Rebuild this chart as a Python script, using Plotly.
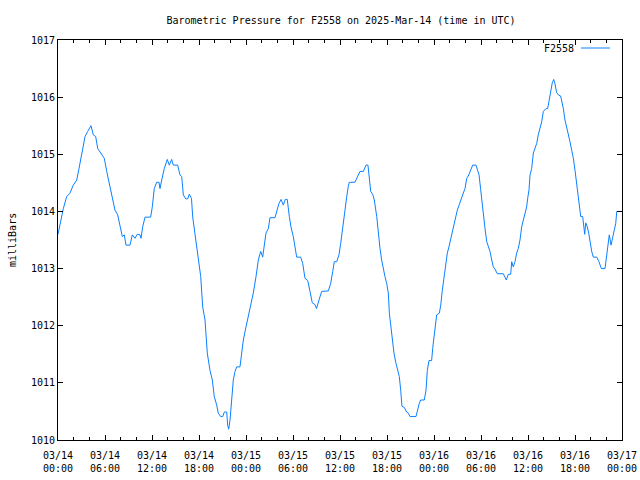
import pandas as pd
import plotly.graph_objects as go

# Hours since 2025-03-14 00:00 UTC
hours = [
    0.0, 0.38, 0.68, 1.11, 1.53, 1.95, 2.39, 2.68, 3.03, 3.45, 3.79, 4.21, 4.51, 4.81,
    5.07, 5.49, 5.91, 6.22, 6.64, 6.93, 7.28, 7.62, 7.91, 8.21, 8.46, 8.68, 9.19, 9.49,
    9.83, 10.12, 10.47, 10.6, 10.81, 11.11, 11.83, 12.04, 12.29, 12.6, 12.89, 13.02,
    13.24, 13.57, 13.95, 14.21, 14.51, 14.72, 15.28, 15.57, 15.79, 16.0, 16.3, 16.56,
    16.76, 17.04, 17.2, 17.42, 17.62, 17.91, 18.22, 18.47, 18.77, 19.06, 19.4, 19.7,
    19.95, 20.26, 20.46, 20.77, 21.03, 21.23, 21.54, 21.66, 21.79, 21.96, 22.17, 22.38,
    22.6, 22.81, 23.23, 23.45, 23.66, 24.0, 24.29, 24.6, 24.93, 25.28, 25.57, 25.88,
    26.13, 26.34, 26.55, 26.85, 27.06, 27.7, 27.92, 28.21, 28.47, 28.76, 29.02, 29.27,
    29.53, 29.74, 30.04, 30.26, 30.47, 30.98, 31.24, 31.53, 31.88, 32.17, 32.46, 32.81,
    33.0, 33.32, 33.66, 34.51, 34.81, 35.07, 35.27, 35.58, 35.87, 36.09, 36.29, 36.42,
    36.64, 36.86, 37.06, 37.19, 37.91, 38.13, 38.39, 38.55, 38.98, 39.19, 39.32, 39.57,
    39.7, 39.92, 40.17, 40.38, 40.69, 40.89, 41.11, 41.32, 41.53, 41.74, 41.96, 42.17,
    42.3, 42.47, 42.68, 42.89, 43.15, 43.37, 43.57, 43.75, 43.91, 44.21, 44.51, 44.72,
    44.94, 45.7, 45.87, 46.12, 46.3, 46.76, 46.98, 47.15, 47.36, 47.7, 47.83, 48.0,
    48.13, 48.34, 48.68, 48.86, 49.06, 49.28, 49.49, 49.7, 49.91, 50.17, 50.39, 50.59,
    50.77, 50.97, 51.23, 51.54, 51.74, 51.96, 52.18, 52.38, 52.6, 52.81, 52.94, 53.36,
    53.53, 53.75, 53.96, 54.17, 54.3, 54.51, 54.73, 54.93, 55.15, 55.37, 55.57, 55.79,
    56.08, 56.85, 57.06, 57.23, 57.49, 57.79, 57.92, 58.12, 58.34, 58.55, 58.76, 58.98,
    59.19, 59.4, 59.62, 59.83, 59.96, 60.13, 60.26, 60.47, 60.68, 60.89, 61.11, 61.31,
    61.53, 61.75, 61.96, 62.3, 62.51, 62.68, 62.9, 63.1, 63.28, 63.45, 63.66, 63.87,
    64.17, 64.3, 64.51, 64.72, 64.94, 65.15, 65.36, 65.58, 65.79, 66.0, 66.21, 66.42,
    66.64, 66.73, 66.98, 67.15, 67.24, 67.37, 67.57, 67.75, 67.91, 68.13, 68.34, 68.77,
    69.06, 69.36, 69.83, 70.05, 70.25, 70.38, 70.6, 70.81, 70.98, 71.2, 71.33, 71.97,
]

pressure = [
    1013.6, 1013.85, 1014.05, 1014.26, 1014.32, 1014.46, 1014.55, 1014.75, 1015.02, 1015.31,
    1015.4, 1015.5, 1015.34, 1015.31, 1015.1, 1015.02, 1014.93, 1014.7, 1014.43, 1014.21,
    1014.02, 1013.94, 1013.73, 1013.56, 1013.59, 1013.41, 1013.41, 1013.59, 1013.53, 1013.6,
    1013.59, 1013.53, 1013.73, 1013.9, 1013.9, 1014.08, 1014.4, 1014.51, 1014.51, 1014.4,
    1014.55, 1014.75, 1014.91, 1014.81, 1014.91, 1014.81, 1014.81, 1014.64, 1014.61, 1014.29,
    1014.22, 1014.22, 1014.3, 1014.23, 1013.9, 1013.67, 1013.5, 1013.21, 1012.86, 1012.33,
    1012.1, 1011.52, 1011.22, 1011.05, 1010.76, 1010.61, 1010.47, 1010.41, 1010.41, 1010.49,
    1010.49, 1010.26, 1010.19, 1010.35, 1010.76, 1011.05, 1011.2, 1011.28, 1011.28, 1011.52,
    1011.75, 1011.98, 1012.16, 1012.39, 1012.57, 1012.86, 1013.15, 1013.3, 1013.2, 1013.41,
    1013.62, 1013.7, 1013.89, 1013.89, 1014.02, 1014.14, 1014.21, 1014.11, 1014.21, 1014.21,
    1013.91, 1013.73, 1013.56, 1013.38, 1013.2, 1013.2, 1013.09, 1012.83, 1012.79, 1012.6,
    1012.4, 1012.37, 1012.3, 1012.45, 1012.6, 1012.61, 1012.74, 1012.95, 1013.12, 1013.12,
    1013.24, 1013.44, 1013.67, 1013.82, 1014.05, 1014.26, 1014.44, 1014.51, 1014.51, 1014.58,
    1014.68, 1014.7, 1014.7, 1014.78, 1014.81, 1014.81, 1014.58, 1014.35, 1014.3, 1014.2,
    1013.91, 1013.62, 1013.35, 1013.15, 1012.97, 1012.86, 1012.74, 1012.57, 1012.22, 1011.98,
    1011.69, 1011.52, 1011.34, 1011.24, 1011.11, 1010.87, 1010.59, 1010.57, 1010.49, 1010.47,
    1010.41, 1010.41, 1010.52, 1010.64, 1010.7, 1010.7, 1010.87, 1011.22, 1011.39, 1011.39,
    1011.6, 1011.78, 1011.92, 1012.19, 1012.22, 1012.36, 1012.62, 1012.86, 1013.06, 1013.27,
    1013.38, 1013.55, 1013.65, 1013.82, 1013.94, 1014.02, 1014.12, 1014.26, 1014.32, 1014.4,
    1014.58, 1014.62, 1014.7, 1014.77, 1014.81, 1014.81, 1014.75, 1014.64, 1014.38, 1014.11,
    1013.85, 1013.7, 1013.47, 1013.38, 1013.3, 1013.15, 1013.03, 1012.99, 1012.91, 1012.91,
    1012.86, 1012.8, 1012.9, 1012.9, 1013.12, 1013.03, 1013.12, 1013.27, 1013.35, 1013.5,
    1013.73, 1013.85, 1013.97, 1014.08, 1014.23, 1014.38, 1014.64, 1014.75, 1015.02, 1015.1,
    1015.19, 1015.34, 1015.45, 1015.57, 1015.75, 1015.8, 1015.8, 1015.95, 1016.15, 1016.25,
    1016.31, 1016.23, 1016.08, 1016.04, 1016.02, 1015.95, 1015.8, 1015.6, 1015.48, 1015.34,
    1015.22, 1015.07, 1014.93, 1014.72, 1014.49, 1014.32, 1014.02, 1013.91, 1013.91, 1013.67,
    1013.6, 1013.8, 1013.73, 1013.62, 1013.47, 1013.3, 1013.2, 1013.2, 1013.12, 1013.0,
    1013.0, 1013.21, 1013.47, 1013.59, 1013.41, 1013.56, 1013.67, 1013.79, 1014.0, 1014.0,
]

tick_hours = [0, 6, 12, 18, 24, 30, 36, 42, 48, 54, 60, 66, 72]
tick_labels = ["03/14<br>00:00", "03/14<br>06:00", "03/14<br>12:00", "03/14<br>18:00",
               "03/15<br>00:00", "03/15<br>06:00", "03/15<br>12:00", "03/15<br>18:00",
               "03/16<br>00:00", "03/16<br>06:00", "03/16<br>12:00", "03/16<br>18:00",
               "03/17<br>00:00"]
series_name = "F2558"
title_text = "Barometric Pressure for F2558 on 2025-Mar-14 (time in UTC)"

start = pd.Timestamp("2025-03-14 00:00:00")
times = start + pd.to_timedelta(hours, unit="h")
tick_times = start + pd.to_timedelta(tick_hours, unit="h")

FONT = "DejaVu Sans Mono"
LINE = "#0a80ff"

fig = go.Figure()
fig.add_trace(go.Scatter(x=times, y=pressure, mode="lines", name=series_name,
                         line=dict(color=LINE, width=1), showlegend=False,
                         hoverinfo="skip"))

fig.update_layout(
    width=640, height=480,
    margin=dict(l=58, r=18, t=40, b=40, autoexpand=False),
    paper_bgcolor="white", plot_bgcolor="white",
    font=dict(family=FONT, size=10, color="black"),
    title=dict(text=title_text, x=341 / 640, xanchor="center", xref="container",
               y=1 - 20 / 480, yref="container", yanchor="middle",
               font=dict(family=FONT, size=10, color="black")),
    xaxis=dict(
        range=[tick_times[0], tick_times[-1]],
        tickvals=tick_times, ticktext=tick_labels, automargin=False,
        ticks="inside", ticklen=5, tickcolor="black", tickwidth=1,
        ticklabelstandoff=6,
        minor=dict(dtick=2 * 3600 * 1000, ticks="inside", ticklen=3,
                   tickcolor="black", showgrid=False),
        showline=True, linecolor="black", linewidth=1, mirror="ticks",
        showgrid=False, zeroline=False, tickfont=dict(family=FONT, size=10),
    ),
    yaxis=dict(
        range=[1010, 1017], dtick=1, tick0=1010, automargin=False,
        ticks="inside", ticklen=5, tickcolor="black", tickwidth=1,
        showline=True, linecolor="black", linewidth=1, mirror="ticks",
        showgrid=False, zeroline=False, tickfont=dict(family=FONT, size=10),
    ),
)

# y-axis label and gnuplot-style key (text left of the line sample)
fig.add_annotation(text="milliBars", textangle=-90, xref="paper", yref="paper",
                   x=(12 - 58) / 564, y=0.5, showarrow=False,
                   font=dict(family=FONT, size=10), xanchor="center", yanchor="middle")
fig.add_annotation(text=series_name, xref="paper", yref="paper",
                   x=(576 - 58) / 564, y=1 - 8 / 400, xanchor="right", yanchor="middle",
                   showarrow=False, font=dict(family=FONT, size=10))
fig.add_shape(type="line", xref="paper", yref="paper",
              x0=(581 - 58) / 564, x1=(610 - 58) / 564, y0=1 - 8 / 400, y1=1 - 8 / 400,
              line=dict(color=LINE, width=1))

fig.write_html("out.html", config={"displayModeBar": False},
               post_script="document.body.style.margin='0';document.body.style.overflow='hidden';")
